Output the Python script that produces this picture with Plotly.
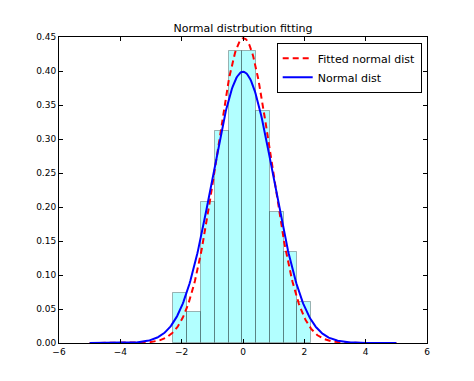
import numpy as np
import plotly.graph_objects as go

# Histogram data (density)
bin_edges = [-2.27, -1.82, -1.37, -0.92, -0.47, -0.02, 0.42, 0.88, 1.33, 1.77, 2.22]
bin_heights = [0.074, 0.045, 0.208, 0.312, 0.430, 0.430, 0.341, 0.193, 0.134, 0.060]

# Normal curve parameters
fit_mean, fit_std = 0.02, 0.89
true_mean, true_std = 0.0, 1.0
curve_range = (-5.0, 5.0)

x_ticks = [-6, -4, -2, 0, 2, 4, 6]
y_ticks = [0.0, 0.05, 0.10, 0.15, 0.20, 0.25, 0.30, 0.35, 0.40, 0.45]


def pdf(x, m, s):
    return np.exp(-0.5 * ((x - m) / s) ** 2) / (s * np.sqrt(2 * np.pi))


edges = np.array(bin_edges)
centers = (edges[:-1] + edges[1:]) / 2
widths = np.diff(edges)
xs = np.linspace(curve_range[0], curve_range[1], 400)

fig = go.Figure()
fig.add_trace(go.Bar(
    x=centers, y=bin_heights, width=widths,
    marker=dict(color="rgba(0,255,255,0.3)",
                line=dict(color="rgba(0,0,0,0.3)", width=1)),
    showlegend=False,
))
fig.add_trace(go.Scatter(
    x=xs, y=pdf(xs, fit_mean, fit_std), mode="lines",
    name="Fitted normal dist",
    line=dict(color="red", width=2, dash="6px,4px"),
))
fig.add_trace(go.Scatter(
    x=xs, y=pdf(xs, true_mean, true_std), mode="lines",
    name="Normal dist",
    line=dict(color="blue", width=2),
))

axis_common = dict(
    showline=True, linecolor="black", linewidth=1, mirror="ticks",
    ticks="inside", ticklen=4, tickcolor="black", showgrid=False,
    zeroline=False, tickfont=dict(family="DejaVu Sans", size=9, color="black"),
)

W, H = 466, 373
fig.update_layout(
    width=W, height=H,
    margin=dict(l=51, r=47, t=29, b=38),
    paper_bgcolor="white", plot_bgcolor="white",
    font=dict(family="DejaVu Sans", color="black"),
    title=dict(text="Normal distrbution fitting", x=(51 + 184) / W, xanchor="center",
               y=1 - 20 / H, yanchor="middle",
               font=dict(family="DejaVu Sans", size=11, color="black")),
    xaxis=dict(range=[-6, 6], tickvals=x_ticks, **axis_common),
    yaxis=dict(range=[0, 0.45], tickvals=y_ticks, tickformat=".2f", **axis_common),
    legend=dict(x=0.9856, y=0.981, xanchor="right", yanchor="top",
                bordercolor="black", borderwidth=1, bgcolor="white",
                font=dict(family="DejaVu Sans", size=11, color="black"),
                tracegroupgap=0, itemwidth=30),
    bargap=0,
)

fig.write_html("out.html")
